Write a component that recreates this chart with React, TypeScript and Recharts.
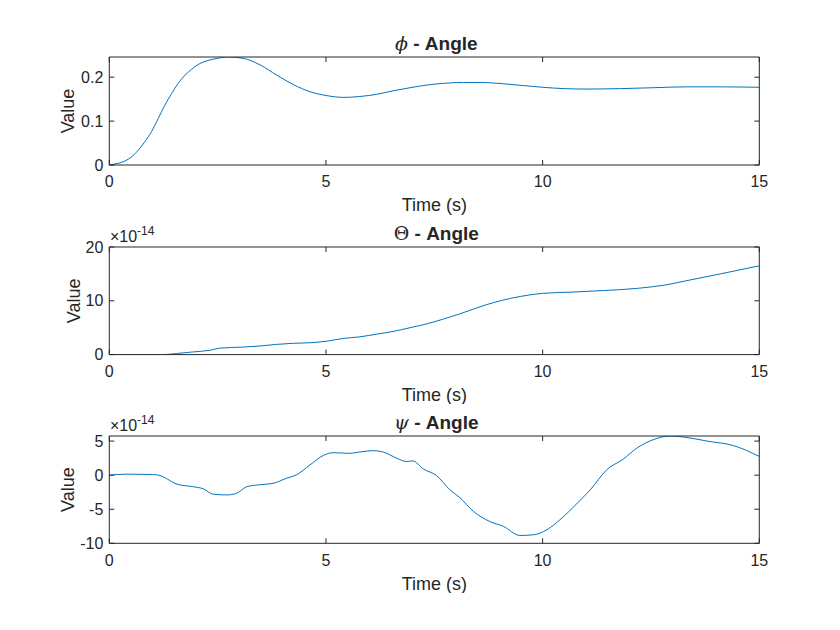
import React from 'react';
import { LineChart, Line, XAxis, YAxis } from 'recharts';

// phi angle (rad) against time (s)
const phiTime = [0, 0.21, 0.36, 0.52, 0.67, 0.82, 0.98, 1.13, 1.28, 1.44, 1.59, 1.75, 1.9, 2.05, 2.21, 2.44, 2.75, 3.09, 3.48, 3.86, 4.25, 4.63, 5.02, 5.4, 5.78, 6.17, 6.55, 6.94, 7.32, 7.71, 8.17, 8.6, 9.09, 9.55, 10.0, 10.5, 11.0, 11.8, 12.55, 13.3, 14.1, 15];
const phiValues = [0, 0.004, 0.009, 0.019, 0.034, 0.053, 0.077, 0.106, 0.136, 0.163, 0.186, 0.205, 0.218, 0.229, 0.236, 0.242, 0.246, 0.243, 0.228, 0.205, 0.183, 0.167, 0.158, 0.154, 0.156, 0.161, 0.169, 0.176, 0.182, 0.186, 0.188, 0.188, 0.185, 0.181, 0.177, 0.174, 0.173, 0.174, 0.176, 0.178, 0.178, 0.177];

// theta angle, in units of 1e-14
const thetaTime = [0, 0.5, 1.0, 1.3, 1.55, 1.94, 2.32, 2.55, 3.09, 3.48, 3.86, 4.25, 4.63, 5.02, 5.4, 5.78, 6.17, 6.55, 6.94, 7.32, 7.71, 8.1, 8.71, 9.48, 10.02, 10.63, 11.4, 12.17, 12.8, 13.3, 14.1, 15];
const thetaValues = [0, 0, 0, 0.02, 0.2, 0.5, 0.8, 1.2, 1.4, 1.6, 1.9, 2.1, 2.2, 2.5, 3.0, 3.3, 3.8, 4.3, 5.0, 5.7, 6.6, 7.6, 9.3, 10.8, 11.4, 11.6, 11.9, 12.3, 12.9, 13.7, 15.0, 16.5];

// psi angle, in units of 1e-14
const psiTime = [0, 0.4, 1.0, 1.17, 1.32, 1.55, 1.94, 2.17, 2.4, 2.71, 2.94, 3.17, 3.48, 3.78, 4.09, 4.32, 4.63, 4.94, 5.17, 5.55, 5.78, 6.09, 6.32, 6.63, 6.86, 7.0, 7.25, 7.55, 7.86, 8.09, 8.4, 8.78, 9.09, 9.48, 9.79, 10.1, 10.4, 10.8, 11.1, 11.48, 11.86, 12.17, 12.55, 12.94, 13.25, 13.8, 14.4, 15];
const psiValues = [0, 0.15, 0.1, -0.05, -0.5, -1.3, -1.7, -2.0, -2.8, -2.9, -2.65, -1.7, -1.4, -1.2, -0.45, 0.05, 1.5, 2.9, 3.3, 3.2, 3.4, 3.6, 3.4, 2.5, 2.0, 2.1, 0.9, -0.05, -2.15, -3.3, -5.3, -6.8, -7.5, -8.85, -8.75, -8.0, -6.55, -4.1, -2.15, 0.8, 2.35, 3.95, 5.2, 5.75, 5.6, 5.0, 4.35, 2.75];

const timeTicks = [0, 5, 10, 15];
const phiTicks = [0, 0.1, 0.2];
const thetaTicks = [0, 10, 20];
const psiTicks = [-10, -5, 0, 5];

const INK = '#262626';
const BLUE = '#0072BD';
const FONT = '"Liberation Sans", Arial, Helvetica, sans-serif';

// top/right axes only carry tick marks, no labels (tick={false} would drop the marks too)
const NoLabel = () => <g />;

type PanelProps = {
  top: number;
  plotHeight: number;
  times: number[];
  values: number[];
  domain: [number, number];
  ticks: number[];
  symbol: string;
  italic: boolean;
  exponent: boolean;
  labelShift: number;
};

function Panel({ top, plotHeight, times, values, domain, ticks, symbol, italic, exponent, labelShift }: PanelProps) {
  const data = times.map((t, i) => ({ t, v: values[i] }));
  const height = 31 + plotHeight + 50;
  const tickStyle = { fill: INK, fontSize: 16, fontFamily: FONT };

  // subplot title, sits just above the box
  const title = (props: any) => {
    const vb = props.viewBox;
    return (
      <text x={vb.x + vb.width / 2 + 2} y={vb.y - 5.6} textAnchor="middle" fill={INK} style={{ fontSize: 19, fontFamily: FONT }}>
        <tspan style={{ fontFamily: '"DejaVu Serif", serif', fontStyle: italic ? 'italic' : 'normal' }}>{symbol}</tspan>
        <tspan style={{ fontWeight: 'bold' }}> - Angle</tspan>
      </text>
    );
  };

  const xLabel = (props: any) => {
    const vb = props.viewBox;
    return (
      <text x={vb.x + vb.width / 2} y={vb.y + 46.4} textAnchor="middle" fill={INK} style={{ fontSize: 18, fontFamily: FONT }}>
        Time (s)
      </text>
    );
  };

  const yLabel = (props: any) => {
    const vb = props.viewBox;
    const bx = vb.x + labelShift;
    const cy = vb.y + vb.height / 2;
    return (
      <g>
        <text transform={`translate(${bx},${cy}) rotate(-90)`} textAnchor="middle" fill={INK} style={{ fontSize: 18, fontFamily: FONT }}>
          Value
        </text>
        {exponent && (
          <text x={vb.x + vb.width + 0.7} y={vb.y - 5} fill={INK} style={{ fontSize: 16, fontFamily: FONT }}>
            ×10<tspan dy={-7} style={{ fontSize: 12 }}>-14</tspan>
          </text>
        )}
      </g>
    );
  };

  return (
    <div style={{ position: 'absolute', left: 0, top, width: 840, height }}>
      <LineChart width={840} height={height} data={data} margin={{ top: 30, right: 79.7, bottom: 0, left: 59.3 }}>
        <XAxis
          dataKey="t"
          type="number"
          domain={[0, 15]}
          ticks={timeTicks}
          allowDataOverflow
          height={50}
          tickSize={-5}
          tickMargin={16}
          stroke={INK}
          tick={tickStyle}
          label={xLabel}
        />
        <XAxis
          xAxisId="top"
          orientation="top"
          dataKey="t"
          type="number"
          domain={[0, 15]}
          ticks={timeTicks}
          allowDataOverflow
          height={1}
          tickSize={-5}
          tick={NoLabel}
          stroke={INK}
          label={title}
        />
        <YAxis
          type="number"
          domain={domain}
          ticks={ticks}
          allowDataOverflow
          width={50}
          tickSize={-5}
          tickMargin={11}
          stroke={INK}
          tick={tickStyle}
          label={yLabel}
        />
        <YAxis
          yAxisId="right"
          orientation="right"
          type="number"
          domain={domain}
          ticks={ticks}
          allowDataOverflow
          width={1}
          tickSize={-5}
          tick={NoLabel}
          stroke={INK}
        />
        <Line dataKey="v" type="monotone" stroke={BLUE} strokeWidth={1} dot={false} isAnimationActive={false} />
      </LineChart>
    </div>
  );
}

export default function App() {
  return (
    <div style={{ position: 'absolute', left: 0, top: 0, width: 840, height: 630, background: '#fff' }}>
      <Panel top={26.3} plotHeight={108} times={phiTime} values={phiValues} domain={[0, 0.246]} ticks={phiTicks} symbol="ϕ" italic exponent={false} labelShift={14.7} />
      <Panel top={215.7} plotHeight={107.6} times={thetaTime} values={thetaValues} domain={[0, 20]} ticks={thetaTicks} symbol="Θ" italic={false} exponent labelShift={20.7} />
      <Panel top={404.7} plotHeight={107.3} times={psiTime} values={psiValues} domain={[-10, 5.75]} ticks={psiTicks} symbol="ψ" italic exponent labelShift={14.7} />
    </div>
  );
}
